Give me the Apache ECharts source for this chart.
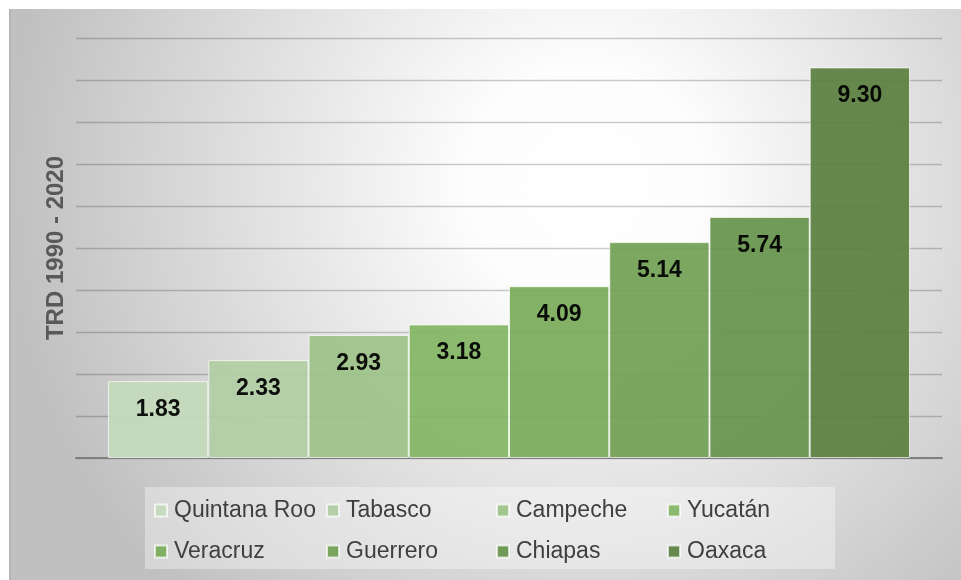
<!DOCTYPE html>
<html><head><meta charset="utf-8">
<script src="https://cdn.jsdelivr.net/npm/echarts@6/dist/echarts.min.js"></script>
<style>html,body{margin:0;padding:0;background:#fff}#c{width:961px;height:580px}</style>
</head><body><div id="c"></div>
<script>
var states = ['Quintana Roo','Tabasco','Campeche','Yucatán','Veracruz','Guerrero','Chiapas','Oaxaca'];
var trdValues = [1.83, 2.33, 2.93, 3.18, 4.09, 5.14, 5.74, 9.30];
var axisTitle = 'TRD 1990 - 2020';

var palette = ['#c4dabb','#b1cea4','#9dc38a','#83b664','#7aac5a','#72a054','#66934c','#5b8041'];
var legendPos = [[154,499],[326,499],[496,499],[667,499],[154,540],[326,540],[496,540],[667,540]];

var chart = echarts.init(document.getElementById('c'));
var series = states.map(function(s,i){
  return {
    name: s, type: 'bar', data: [trdValues[i]],
    barGap: '0%', barCategoryGap: '7.4%',
    itemStyle: {color: palette[i], opacity: 0.93, borderColor: 'rgba(255,255,255,0.75)', borderWidth: 1},
    label: {show: true, position: 'insideTop', distance: 17, fontFamily: 'Liberation Sans, Arial', fontWeight: 'bold', fontSize: 23, color: '#000',
      formatter: function(p){ return p.value.toFixed(2); }},
    emphasis: {disabled: true}
  };
});
var legends = states.map(function(s,i){
  return {data: [s], left: legendPos[i][0], top: legendPos[i][1], itemWidth: 12, itemHeight: 12, itemGap: 0, padding: 0,
    icon: 'rect', textStyle: {fontFamily: 'Liberation Sans, Arial', fontSize: 23, color: '#3f3f3f', padding: [0,0,0,2]}, selectedMode: false};
});
chart.setOption({
  animation: false,
  graphic: [
    {type: 'rect', z: -10, shape: {x: 9, y: 9, width: 960, height: 580},
      style: {fill: new echarts.graphic.RadialGradient(0.6, 0.3, 1.0, [{offset: 0, color: '#ffffff'},{offset: 0.2, color: '#fdfdfd'},{offset: 1, color: '#c0c0c0'}])}},
    {type: 'line', z: -9, shape: {x1: 10, y1: 9, x2: 10, y2: 580}, style: {stroke: '#b5b5b5', lineWidth: 2}},
    {type: 'rect', z: -9, shape: {x: 145, y: 487, width: 690, height: 82}, style: {fill: 'rgba(255,255,255,0.35)'}}
  ],
  legend: legends,
  grid: {left: 76, right: 19, top: 38, bottom: 122},
  xAxis: {type: 'category', data: [''], axisTick: {show: false}, axisLabel: {show: false},
    axisLine: {lineStyle: {color: '#7f7f7f', width: 2}}},
  yAxis: {type: 'value', min: 0, max: 10, interval: 1, axisLabel: {show: false}, axisLine: {show: false}, axisTick: {show: false},
    splitLine: {lineStyle: {color: 'rgba(0,0,0,0.2)', width: 1.3}},
    name: axisTitle, nameLocation: 'middle', nameRotate: 90, nameGap: 8,
    nameTextStyle: {fontFamily: 'Liberation Sans, Arial', fontWeight: 'bold', fontSize: 24, color: '#595959'}},
  series: series
});
</script></body></html>
